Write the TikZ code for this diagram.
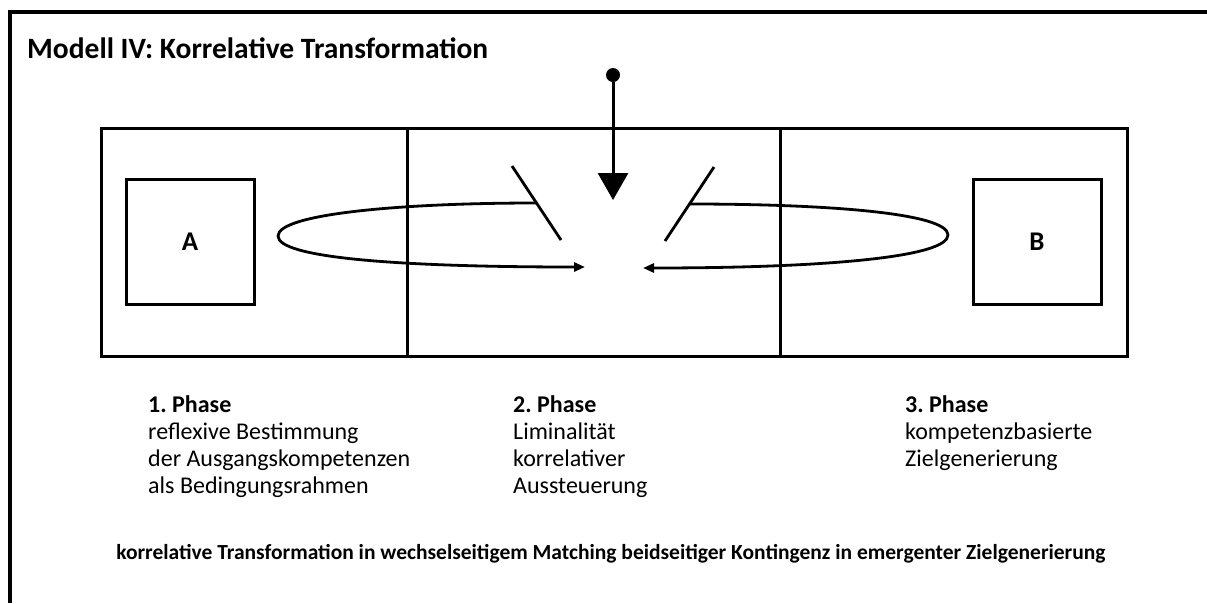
\documentclass[tikz,border=0pt]{standalone}
\usepackage{fontspec}
\setmainfont{Carlito}
\usetikzlibrary{arrows.meta}
\frenchspacing
\tikzset{
  frame/.style={line width=3pt},
  panel/.style={draw, line width=3pt, minimum width=128pt, minimum height=125pt, font=\fontsize{27}{30}\selectfont\bfseries},
  loopline/.style={line width=2.8pt},
  phase/.style={anchor=north west, align=left, inner sep=0pt, font=\fontsize{24}{27}\selectfont},
}
\begin{document}
\begin{tikzpicture}[x=1pt,y=-1pt]
\useasboundingbox (0,0) rectangle (1207,603);
\draw [line width=4pt] (1207,12) -- (10,12) -- (10,603);
\node [anchor=west, inner sep=0pt, font=\fontsize{29.5}{32}\selectfont\bfseries] (title) at (27,48) {Modell IV: Korrelative Transformation};
% three phases
\draw [frame] (101,128) rectangle (1127,356);
\draw [frame] (407,128) -- (407,356);
\draw [frame] (780,128) -- (780,356);
\node [panel] (A) at (190,241.5) {A};
\node [panel] (B) at (1037,241.5) {B};
% liminal gate
\coordinate (gl1) at (512,166); \coordinate (gl2) at (561,240);
\coordinate (gr1) at (714,167); \coordinate (gr2) at (665,241);
\draw [loopline] (gl1) -- (gl2);
\draw [loopline] (gr1) -- (gr2);
\node [circle, fill, inner sep=0pt, minimum size=14pt] (src) at (613,75) {};
\coordinate (hub) at (613,200);
\draw [line width=3pt, -{Triangle[length=27pt,width=30pt]}] (src) -- (hub);
% loops
\coordinate (lt) at (536,203); \coordinate (lx) at (278,236); \coordinate (lb) at (585,267);
\coordinate (rt) at (690,204); \coordinate (rx) at (948,235); \coordinate (rb) at (643,268);
\draw [loopline, -{Triangle[length=11pt,width=9pt]}] (lt) .. controls (400,203) and (278,214) .. (lx) .. controls (278,258) and (400,267) .. (lb);
\draw [loopline, -{Triangle[length=11pt,width=9pt]}] (rt) .. controls (826,204) and (948,213) .. (rx) .. controls (948,257) and (826,268) .. (rb);
% texts
\node [phase] (p1) at (148,395) {\textbf{1. Phase}\\reflexive Bestimmung\\der Ausgangskompetenzen\\als Bedingungsrahmen};
\node [phase] (p2) at (513,395) {\textbf{2. Phase}\\Liminalität\\korrelativer\\Aussteuerung};
\node [phase] (p3) at (905,395) {\textbf{3. Phase}\\kompetenzbasierte\\Zielgenerierung};
\node [font=\fontsize{21.5}{24}\selectfont\bfseries] (sum) at (611,554) {korrelative Transformation in wechselseitigem Matching beidseitiger Kontingenz in emergenter Zielgenerierung};
\end{tikzpicture}
\end{document}
